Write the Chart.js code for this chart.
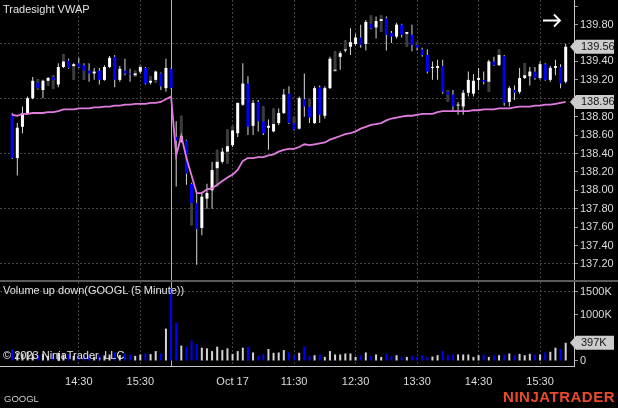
<!DOCTYPE html>
<html>
<head>
<meta charset="utf-8">
<script src="https://cdn.jsdelivr.net/npm/chart.js@4.4.0/dist/chart.umd.min.js"></script>
<style>
  html, body { margin: 0; padding: 0; background: #000; }
  #wrap { position: relative; width: 618px; height: 408px; background: #000; overflow: hidden;
          font-family: 'Liberation Sans', Arial, sans-serif; }
  canvas { position: absolute; left: 0; }
  #priceChart { top: 0; }
  #volChart { top: 282px; }
  #sep { position: absolute; left: 0; top: 280px; width: 618px; height: 2px; background: #5a5a5a; }
  .lbl { position: absolute; color: #e4e4e4; font-size: 11px; line-height: 1; white-space: nowrap; }
  #logo { right: 3px; top: 389px; font-size: 15px; font-weight: bold; color: #ea4a2c; letter-spacing: 0.5px; }
</style>
</head>
<body>
<div id="wrap">
  <canvas id="priceChart" width="618" height="280"></canvas>
  <div id="sep"></div>
  <canvas id="volChart" width="618" height="126"></canvas>
  <div class="lbl" style="left:3px;top:4px">Tradesight VWAP</div>
  <div class="lbl" style="left:3px;top:285px">Volume up down(GOOGL (5 Minute))</div>
  <div class="lbl" style="left:3px;top:350px">© 2023 NinjaTrader, LLC</div>
  <div class="lbl" style="left:4px;top:394px;font-size:9.5px;color:#cfcfcf">GOOGL</div>
  <div class="lbl" id="logo">NINJATRADER</div>
</div>
<script>
// ─── Sessions (5 minute bars) ─────────────────────────────
const sessions = [
  { day: 'Oct 16', first: '13:25', last: '16:00' },
  { day: 'Oct 17', first: '09:35', last: '15:55' },
];

// ─── OHLC ─────────────────────────────────────────────────
const open = [
  138.82, 138.35, 138.69, 138.83, 139.00, 139.17, 139.09, 139.19, 139.23, 139.15,
  139.34, 139.41, 139.35, 139.38, 139.36, 139.30, 139.27, 139.30, 139.20, 139.34,
  139.45, 139.20, 139.30, 139.27, 139.25, 139.29, 139.33, 139.17, 139.20, 139.27,
  139.11, 139.32,
  138.58, 138.53, 138.54, 138.07, 137.86, 137.59, 137.91, 138.00, 138.24, 138.31,
  138.42, 138.49, 138.62, 138.93, 139.16, 138.70, 138.96, 138.75, 138.68, 138.64,
  138.73, 138.84, 139.05, 138.73, 138.67, 138.99, 138.91, 138.73, 139.12, 138.81,
  139.11, 139.30, 139.45, 139.52, 139.56, 139.59, 139.66, 139.59, 139.81, 139.77,
  139.84, 139.87, 139.71, 139.67, 139.80, 139.70, 139.69, 139.58, 139.53, 139.47,
  139.33, 139.33, 139.35, 139.07, 139.04, 138.92, 138.91, 139.06, 139.05, 139.20,
  139.20, 139.18, 139.40, 139.36, 139.46, 138.96, 139.09, 139.07, 139.22, 139.24,
  139.29, 139.22, 139.37, 139.20, 139.33, 139.34, 139.18
];
const high = [
  138.84, 138.73, 138.91, 139.02, 139.23, 139.21, 139.20, 139.23, 139.25, 139.38,
  139.48, 139.43, 139.38, 139.44, 139.38, 139.38, 139.33, 139.33, 139.36, 139.46,
  139.47, 139.35, 139.43, 139.32, 139.30, 139.36, 139.34, 139.24, 139.30, 139.28,
  139.43, 139.33,
  138.75, 138.81, 138.55, 138.08, 137.97, 137.98, 138.07, 138.31, 138.44, 138.46,
  138.66, 138.70, 138.95, 139.38, 139.24, 138.98, 138.98, 138.91, 138.77, 138.89,
  138.89, 139.10, 139.13, 138.80, 139.02, 139.27, 138.99, 139.13, 139.14, 139.13,
  139.45, 139.51, 139.51, 139.63, 139.76, 139.70, 139.80, 139.85, 139.90, 139.89,
  139.90, 139.89, 139.73, 139.82, 139.81, 139.72, 139.80, 139.61, 139.55, 139.53,
  139.40, 139.42, 139.42, 139.09, 139.09, 138.96, 139.09, 139.29, 139.26, 139.33,
  139.29, 139.42, 139.45, 139.53, 139.47, 139.13, 139.14, 139.33, 139.38, 139.34,
  139.34, 139.40, 139.38, 139.35, 139.42, 139.37, 139.59
];
const low = [
  138.34, 138.16, 138.62, 138.82, 138.99, 139.09, 139.00, 139.14, 139.10, 139.12,
  139.33, 139.32, 139.20, 139.33, 139.20, 139.18, 139.20, 139.15, 139.19, 139.33,
  139.12, 139.18, 139.25, 139.18, 139.23, 139.27, 139.15, 139.15, 139.17, 139.09,
  139.07, 139.10,
  138.04, 138.52, 138.06, 137.62, 137.19, 137.51, 137.80, 137.80, 138.04, 138.29,
  138.29, 138.47, 138.58, 138.92, 138.60, 138.60, 138.64, 138.60, 138.44, 138.63,
  138.71, 138.83, 138.72, 138.65, 138.66, 138.80, 138.73, 138.72, 138.73, 138.78,
  139.10, 139.29, 139.31, 139.50, 139.47, 139.57, 139.55, 139.52, 139.75, 139.65,
  139.72, 139.52, 139.60, 139.65, 139.66, 139.56, 139.51, 139.52, 139.45, 139.27,
  139.20, 139.20, 139.05, 138.96, 138.87, 138.82, 138.82, 139.02, 139.02, 139.09,
  139.15, 139.07, 139.35, 139.35, 138.92, 138.91, 138.98, 139.05, 139.21, 139.14,
  139.20, 139.20, 139.19, 139.18, 139.25, 139.11, 139.16
];
const close = [
  138.35, 138.68, 138.84, 139.00, 139.19, 139.11, 139.19, 139.22, 139.20, 139.34,
  139.40, 139.33, 139.37, 139.34, 139.30, 139.27, 139.29, 139.20, 139.34, 139.44,
  139.20, 139.32, 139.27, 139.26, 139.27, 139.34, 139.16, 139.19, 139.29, 139.13,
  139.33, 139.11,
  138.54, 138.59, 138.18, 137.86, 137.58, 137.93, 137.97, 138.22, 138.31, 138.42,
  138.48, 138.65, 138.95, 139.16, 138.69, 138.95, 138.75, 138.62, 138.70, 138.72,
  138.84, 139.04, 138.73, 138.66, 139.00, 138.91, 138.79, 139.11, 138.82, 139.11,
  139.43, 139.31, 139.49, 139.53, 139.61, 139.66, 139.58, 139.83, 139.76, 139.84,
  139.86, 139.69, 139.67, 139.80, 139.69, 139.72, 139.58, 139.55, 139.47, 139.29,
  139.34, 139.35, 139.07, 139.04, 138.91, 138.93, 139.06, 139.20, 139.19, 139.22,
  139.18, 139.40, 139.36, 139.47, 138.95, 139.11, 139.06, 139.22, 139.25, 139.29,
  139.22, 139.37, 139.20, 139.33, 139.35, 139.16, 139.56
];

// dark grey shadow parts of some bars: [bar, from, to]
const shade = [
  [5, 139.09, 139.21], [7, 139.14, 139.19], [8, 139.10, 139.25], [10, 139.40, 139.48],
  [12, 139.20, 139.35], [14, 139.20, 139.30], [24, 139.23, 139.30], [25, 139.34, 139.36],
  [27, 139.19, 139.24], [28, 139.17, 139.20], [33, 138.59, 138.81], [35, 137.62, 137.86],
  [40, 138.04, 138.44], [42, 138.29, 138.66], [43, 138.65, 138.70], [49, 138.75, 138.91],
  [51, 138.72, 138.89], [55, 138.73, 138.80], [58, 138.91, 138.99], [63, 139.29, 139.51],
  [65, 139.53, 139.63], [70, 139.81, 139.90], [72, 139.72, 139.90], [77, 139.56, 139.70],
  [79, 139.58, 139.61], [85, 138.96, 139.09], [93, 139.07, 139.18], [95, 139.47, 139.53],
  [100, 139.25, 139.38]
];

// ─── Tradesight VWAP ──────────────────────────────────────
const vwap = [
  138.82, 138.81, 138.83, 138.83, 138.84, 138.84, 138.84, 138.85, 138.85, 138.86,
  138.88, 138.88, 138.88, 138.89, 138.89, 138.89, 138.90, 138.90, 138.91, 138.91,
  138.92, 138.92, 138.93, 138.93, 138.94, 138.94, 138.94, 138.95, 138.95, 138.96,
  138.99, 139.02,
  138.38, 138.59, 138.35, 138.16, 137.97, 137.97, 138.01, 138.02, 138.06, 138.10,
  138.14, 138.17, 138.22, 138.32, 138.35, 138.35, 138.36, 138.36, 138.38, 138.39,
  138.42, 138.44, 138.45, 138.45, 138.47, 138.50, 138.49, 138.50, 138.51, 138.52,
  138.55, 138.57, 138.59, 138.61, 138.62, 138.64, 138.67, 138.69, 138.71, 138.72,
  138.73, 138.76, 138.78, 138.79, 138.80, 138.81, 138.81, 138.82, 138.83, 138.83,
  138.83, 138.85, 138.86, 138.86, 138.86, 138.86, 138.86, 138.86, 138.87, 138.87,
  138.88, 138.88, 138.88, 138.89, 138.89, 138.89, 138.90, 138.91, 138.91, 138.91,
  138.92, 138.92, 138.93, 138.93, 138.94, 138.95, 138.96
];

// ─── Volume (thousands) ───────────────────────────────────
const volume = [
  250, 180, 160, 200, 170, 130, 150, 110, 120, 180,
  140, 150, 110, 120, 100, 110, 90, 130, 120, 140,
  190, 130, 163, 142, 111, 142, 163, 150, 215, 163,
  704, 1580,
  830, 333, 311, 444, 364, 289, 275, 215, 311, 237,
  275, 155, 215, 289, 311, 186, 111, 148, 260, 178,
  186, 237, 186, 126, 178, 311, 111, 126, 142, 89,
  215, 142, 142, 163, 163, 89, 126, 186, 105, 142,
  89, 163, 105, 126, 89, 89, 111, 89, 126, 89,
  96, 126, 215, 126, 142, 142, 142, 142, 89, 126,
  142, 89, 126, 126, 142, 163, 126, 155, 126, 155,
  142, 142, 186, 200, 289, 260, 397
];

// ─── Axes ─────────────────────────────────────────────────
const xTickTimes = ['Oct 16 14:30', 'Oct 16 15:30', 'Oct 17 10:30', 'Oct 17 11:30',
                    'Oct 17 12:30', 'Oct 17 13:30', 'Oct 17 14:30', 'Oct 17 15:30'];
const xTickLabels = ['14:30', '15:30', 'Oct 17', '11:30', '12:30', '13:30', '14:30', '15:30'];
const priceTicks = [137.2, 137.4, 137.6, 137.8, 138.0, 138.2, 138.4, 138.6, 138.8,
                    139.0, 139.2, 139.4, 139.6, 139.8, 140.0];
const priceGrid = [137.2, 137.8, 138.4, 139.0, 139.6];
const priceHidden = [139.0, 139.6, 140.0];
const volTicks = [0, 500, 1000, 1500];
const volGrid = [1500];
const volHidden = [500];
const sessionEnd = 'Oct 16 16:00';

const priceRange = [137.025, 140.068];
const volRange = [-109, 1717];
const xRange = [-2.38, 109.62];

// ─── Styling ──────────────────────────────────────────────
const font = { family: "'Liberation Sans', Arial, sans-serif", size: 11 };
const textColor = '#dcdcdc';
const gridColor = '#444444';
const axisColor = '#c8c8c8';
const upColor = '#ffffff';
const downColor = '#0000ff';

function buildTimes() {
  const out = [];
  const toMin = t => +t.slice(0, 2) * 60 + +t.slice(3);
  sessions.forEach(s => {
    for (let m = toMin(s.first); m <= toMin(s.last); m += 5) {
      const hh = String(Math.floor(m / 60)).padStart(2, '0');
      const mm = String(m % 60).padStart(2, '0');
      out.push(s.day + ' ' + hh + ':' + mm);
    }
  });
  return out;
}

const times = buildTimes();
const idx = times.map((t, i) => i);
const isUp = i => close[i] >= open[i];
const near = (list, v) => list.some(g => Math.abs(g - v) < 1e-6);

function xScale(showLabels) {
  return {
    type: 'linear', min: xRange[0], max: xRange[1], bounds: 'data', offset: false,
    afterBuildTicks: s => { s.ticks = xTickTimes.map(t => ({ value: times.indexOf(t) })); },
    afterFit: s => { s.height = showLabels ? 42 : 0; s.paddingLeft = 0; s.paddingRight = 0; },
    grid: { offset: false, color: gridColor, drawTicks: false },
    border: { display: showLabels, color: axisColor, dash: [2, 2] },
    ticks: { display: showLabels, color: textColor, font, padding: 9, maxRotation: 0, autoSkip: false,
             callback: (v, i) => xTickLabels[i] },
  };
}

function yScale(range, ticks, grid, fmt) {
  return {
    position: 'right', min: range[0], max: range[1], bounds: 'data', beginAtZero: false,
    afterBuildTicks: s => { s.ticks = ticks.map(v => ({ value: v })); },
    afterFit: s => { s.width = 44; s.paddingTop = 0; s.paddingBottom = 0; },
    grid: { color: c => near(grid, c.tick.value) ? gridColor : 'rgba(0,0,0,0)',
            tickColor: '#9a9a9a', tickLength: 4 },
    border: { color: axisColor, dash: [2, 2] },
    ticks: { color: textColor, font, padding: 2, autoSkip: false, callback: fmt },
  };
}

// ─── Decorations: session break, markers, scroll arrow ────
function drawMarker(chart, scale, value, text) {
  const { ctx, chartArea } = chart;
  const y = scale.getPixelForValue(value);
  const tip = chartArea.right - 4, left = chartArea.right + 2, right = chart.width - 4, h = 7;
  ctx.save();
  ctx.fillStyle = '#cccccc';
  ctx.beginPath();
  ctx.moveTo(tip, y);
  ctx.lineTo(left, y - h);
  ctx.lineTo(right, y - h);
  ctx.lineTo(right, y + h);
  ctx.lineTo(left, y + h);
  ctx.closePath();
  ctx.fill();
  ctx.fillStyle = '#141414';
  ctx.font = "11px 'Liberation Sans', Arial, sans-serif";
  ctx.textBaseline = 'middle';
  ctx.fillText(text, chartArea.right + 7, y + 0.5);
  ctx.restore();
}

const decorations = {
  id: 'decorations',
  beforeDatasetsDraw(chart) {
    const { ctx, chartArea: a, scales: { x } } = chart;
    const px = Math.round(x.getPixelForValue(times.indexOf(sessionEnd))) + 0.5;
    ctx.save();
    ctx.strokeStyle = '#b4b4b4';
    ctx.lineWidth = 1;
    ctx.beginPath();
    ctx.moveTo(px, a.top);
    ctx.lineTo(px, a.bottom);
    ctx.stroke();
    ctx.restore();
  },
  afterDraw(chart, args, opts) {
    (opts.markers || []).forEach(m => drawMarker(chart, chart.scales.y, m.value, m.text));
    if (opts.arrow) {
      const { ctx, chartArea: a } = chart;
      const y = 20.5, x2 = a.right - 14;
      ctx.save();
      ctx.strokeStyle = '#ffffff';
      ctx.lineWidth = 1.8;
      ctx.beginPath();
      ctx.moveTo(a.right - 31, y);
      ctx.lineTo(x2, y);
      ctx.moveTo(x2 - 6, y - 6);
      ctx.lineTo(x2, y);
      ctx.lineTo(x2 - 6, y + 6);
      ctx.stroke();
      ctx.restore();
    }
  }
};

const last = times.length - 1;

// ─── Price Chart ──────────────────────────────────────────
new Chart(document.getElementById('priceChart'), {
  type: 'bar',
  data: {
    datasets: [
      { type: 'line', label: 'VWAP', data: idx.map(i => ({ x: i, y: vwap[i] })),
        borderColor: '#e07ce0', borderWidth: 1.8, pointRadius: 0, order: 0 },
      { label: 'Body', data: idx.map(i => ({ x: i, y: [open[i], close[i]] })),
        backgroundColor: idx.map(i => isUp(i) ? upColor : downColor),
        maxBarThickness: 3, minBarLength: 1, grouped: false, order: 1 },
      { label: 'Shade', data: shade.map(s => ({ x: s[0], y: [s[1], s[2]] })),
        backgroundColor: '#3c3c3c', maxBarThickness: 3, grouped: false, order: 2 },
      { label: 'Wick', data: idx.map(i => ({ x: i, y: [low[i], high[i]] })),
        backgroundColor: '#d8d8d8', maxBarThickness: 1, grouped: false, order: 3 },
    ],
  },
  options: {
    responsive: false, animation: false, devicePixelRatio: 1,
    layout: { padding: 0 },
    plugins: {
      legend: { display: false }, tooltip: { enabled: false },
      decorations: {
        arrow: true,
        markers: [
          { value: close[last], text: close[last].toFixed(2) },
          { value: vwap[last], text: vwap[last].toFixed(2) },
        ],
      },
    },
    scales: {
      x: xScale(false),
      y: yScale(priceRange, priceTicks, priceGrid, v => near(priceHidden, v) ? '' : v.toFixed(2)),
    },
  },
  plugins: [decorations],
});

// ─── Volume Chart ─────────────────────────────────────────
new Chart(document.getElementById('volChart'), {
  type: 'bar',
  data: {
    datasets: [
      { label: 'Volume', data: idx.map(i => ({ x: i, y: volume[i] })),
        backgroundColor: idx.map(i => isUp(i) ? '#d4d4d4' : downColor),
        maxBarThickness: 2, grouped: false },
    ],
  },
  options: {
    responsive: false, animation: false, devicePixelRatio: 1,
    layout: { padding: 0 },
    plugins: {
      legend: { display: false }, tooltip: { enabled: false },
      decorations: { markers: [{ value: volume[last], text: volume[last] + 'K' }] },
    },
    scales: {
      x: xScale(true),
      y: yScale(volRange, volTicks, volGrid, v => near(volHidden, v) ? '' : (v === 0 ? '0' : v + 'K')),
    },
  },
  plugins: [decorations],
});
</script>
</body>
</html>
